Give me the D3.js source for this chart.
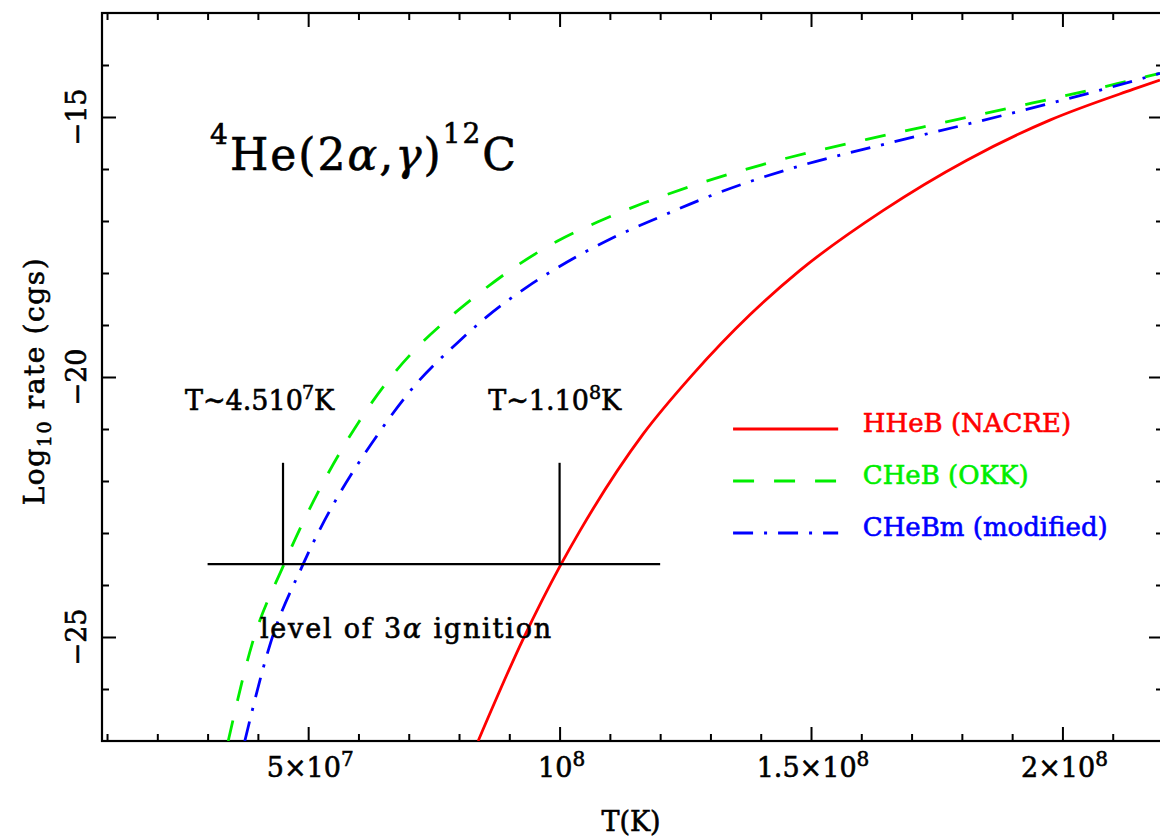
<!DOCTYPE html>
<html>
<head>
<meta charset="utf-8">
<script src="https://cdn.jsdelivr.net/npm/d3@7/dist/d3.min.js"></script>
<style>
  body { margin: 0; background: #fff; }
  text { font-family: "DejaVu Serif", serif; fill: #000; stroke: #000; stroke-width: 0.6px; }
</style>
</head>
<body>
<svg id="chart" width="1160" height="840"></svg>
<script>
// temperatures are in units of 1e7 K, rates are log10 (cgs)
var tempNacre = [8.38, 9.27, 10.03, 10.41, 11.66, 12.65, 13.79, 14.78, 16.43, 18.10, 19.75, 21.40, 21.94];
var rateNacre = [-27.0, -25.05, -23.6, -22.95, -21.1, -19.95, -18.8, -17.95, -16.80, -15.83, -15.06, -14.47, -14.29];

var tempOkk = [3.41, 3.88, 4.52, 6.03, 6.63, 7.08, 7.82, 8.48, 9.15, 9.95, 10.80, 11.66, 12.65, 13.65, 14.44, 16.11, 17.76, 19.41, 21.09, 21.94];
var rateOkk = [-27.0, -25.15, -23.6, -20.83, -20.02, -19.52, -18.85, -18.33, -17.86, -17.39, -17.00, -16.66, -16.32, -16.02, -15.81, -15.43, -15.08, -14.73, -14.36, -14.16];

var tempMod = [3.74, 4.24, 4.90, 6.49, 7.16, 7.96, 8.48, 9.35, 10.15, 11.00, 12.00, 12.99, 13.79, 14.78, 16.43, 18.10, 19.75, 21.40, 21.94];
var rateMod = [-27.0, -25.15, -23.6, -20.96, -20.12, -19.35, -18.90, -18.27, -17.79, -17.35, -16.92, -16.52, -16.24, -15.94, -15.53, -15.14, -14.74, -14.31, -14.16];

var seriesNames = ["HHeB (NACRE)", "CHeB (OKK)", "CHeBm (modified)"];
var seriesColors = ["#ff0000", "#00ee00", "#0000ff"];
var seriesDash = [null, "21,20", "20,11,3,11"];

// axis ticks and labels
var xMajor = [5, 10, 15, 20];
var xMinor = [1, 2, 3, 4, 6, 7, 8, 9, 11, 12, 13, 14, 16, 17, 18, 19, 21];
var xLabelMant = ["5×10", "10", "1.5×10", "2×10"];
var xLabelExp = ["7", "8", "8", "8"];
var yMajor = [-25, -20, -15];
var yMinor = [-26, -24, -23, -22, -21, -19, -18, -17, -16, -14];
var yLabels = ["−25", "−20", "−15"];

// ignition level markers
var ignitionLevel = -23.6;
var ignitionTop = -21.65;
var ignitionTemps = [4.5, 10.0];
var ignitionSpan = [3.0, 12.0];

var svg = d3.select("#chart");
var plotLeft = 102, plotRight = 1163, plotTop = 13, plotBottom = 741;

var x = d3.scaleLinear().domain([0.9, 22.0]).range([plotLeft, plotRight]);
var y = d3.scaleLinear().domain([-27, -13]).range([plotBottom, plotTop]);

svg.append("rect").attr("width", 1160).attr("height", 840).attr("fill", "#fff");

svg.append("clipPath").attr("id", "plotclip")
    .append("rect")
    .attr("x", plotLeft).attr("y", plotTop)
    .attr("width", plotRight - plotLeft).attr("height", plotBottom - plotTop);

// ticks on all four sides, pointing inward
function tickAxis(axis, values, size, tx, ty) {
    var g = svg.append("g")
        .attr("transform", "translate(" + tx + "," + ty + ")")
        .call(axis.tickValues(values).tickSizeInner(-size).tickSizeOuter(0).tickFormat(""));
    g.select(".domain").remove();
    g.selectAll("line").attr("stroke", "#000").attr("stroke-width", 2);
}
tickAxis(d3.axisBottom(x), xMajor, 14, 0, plotBottom);
tickAxis(d3.axisBottom(x), xMinor, 7, 0, plotBottom);
tickAxis(d3.axisTop(x), xMajor, 14, 0, plotTop);
tickAxis(d3.axisTop(x), xMinor, 7, 0, plotTop);
tickAxis(d3.axisLeft(y), yMajor, 14, plotLeft, 0);
tickAxis(d3.axisLeft(y), yMinor, 7, plotLeft, 0);
tickAxis(d3.axisRight(y), yMajor, 14, plotRight, 0);
tickAxis(d3.axisRight(y), yMinor, 7, plotRight, 0);

svg.append("rect")
    .attr("x", plotLeft).attr("y", plotTop)
    .attr("width", plotRight - plotLeft).attr("height", plotBottom - plotTop)
    .attr("fill", "none").attr("stroke", "#000").attr("stroke-width", 2.2);

// x tick labels with exponents
xMajor.forEach(function(v, i) {
    var t = svg.append("text")
        .attr("x", x(v) + 2).attr("y", 777)
        .attr("text-anchor", "middle")
        .style("font-size", "27px");
    t.append("tspan").text(xLabelMant[i]);
    t.append("tspan").attr("dy", -11).style("font-size", "20px").text(xLabelExp[i]);
});

// y tick labels, rotated
yMajor.forEach(function(v, i) {
    svg.append("text")
        .attr("transform", "translate(86," + y(v) + ") rotate(-90)")
        .attr("text-anchor", "middle")
        .style("font-size", "27px")
        .text(yLabels[i]);
});

// axis titles
svg.append("text")
    .attr("x", 631).attr("y", 831)
    .attr("text-anchor", "middle")
    .style("font-size", "27px")
    .text("T(K)");

var yt = svg.append("text")
    .attr("transform", "translate(44," + ((plotTop + plotBottom) / 2 + 4) + ") rotate(-90)")
    .attr("text-anchor", "middle")
    .style("font-size", "28px")
    .style("letter-spacing", "1.6px");
yt.append("tspan").text("Log");
yt.append("tspan").attr("dy", 7).style("font-size", "19px").text("10");
yt.append("tspan").attr("dy", -7).text(" rate (cgs)");

// curves
var line = d3.line()
    .x(function(d) { return x(d[0]); })
    .y(function(d) { return y(d[1]); })
    .curve(d3.curveMonotoneX);

var temps = [tempNacre, tempOkk, tempMod];
var rates = [rateNacre, rateOkk, rateMod];

var curves = svg.append("g").attr("clip-path", "url(#plotclip)");
temps.forEach(function(ts, k) {
    var pts = ts.map(function(t, i) { return [t, rates[k][i]]; });
    curves.append("path")
        .datum(pts)
        .attr("d", line)
        .attr("fill", "none")
        .attr("stroke", seriesColors[k])
        .attr("stroke-width", 2.8)
        .attr("stroke-dasharray", seriesDash[k]);
});

// ignition level annotation
svg.append("line")
    .attr("x1", x(ignitionSpan[0])).attr("x2", x(ignitionSpan[1]))
    .attr("y1", y(ignitionLevel)).attr("y2", y(ignitionLevel))
    .attr("stroke", "#000").attr("stroke-width", 2.2);
ignitionTemps.forEach(function(t) {
    svg.append("line")
        .attr("x1", x(t)).attr("x2", x(t))
        .attr("y1", y(ignitionLevel)).attr("y2", y(ignitionTop))
        .attr("stroke", "#000").attr("stroke-width", 2.2);
});

var a1 = svg.append("text").attr("x", x(2.55)).attr("y", y(-20.63)).style("font-size", "27px");
a1.append("tspan").text("T~4.510");
a1.append("tspan").attr("dy", -11).attr("dx", -1).style("font-size", "19px").text("7");
a1.append("tspan").attr("dy", 11).text("K");

var a2 = svg.append("text").attr("x", x(8.58)).attr("y", y(-20.63)).style("font-size", "27px");
a2.append("tspan").text("T~1.10");
a2.append("tspan").attr("dy", -11).style("font-size", "19px").text("8");
a2.append("tspan").attr("dy", 11).text("K");

var a3 = svg.append("text").attr("x", x(4.04)).attr("y", y(-25.02))
    .style("font-size", "27px").style("letter-spacing", "1.8px");
a3.append("tspan").text("level of 3");
a3.append("tspan").style("font-style", "italic").text("α");
a3.append("tspan").text(" ignition");

// reaction title
var ti = svg.append("text").attr("x", x(3.05)).attr("y", y(-16.02))
    .style("font-size", "44px").style("letter-spacing", "2px");
ti.append("tspan").attr("dy", -26).style("font-size", "28px").text("4");
ti.append("tspan").attr("dy", 26).text("He(2");
ti.append("tspan").style("font-style", "italic").text("α");
ti.append("tspan").text(",");
ti.append("tspan").style("font-style", "italic").text("γ");
ti.append("tspan").text(")");
ti.append("tspan").attr("dy", -27).style("font-size", "28px").text("12");
ti.append("tspan").attr("dy", 27).text("C");

// legend
var legendRates = [-21, -22, -23];
seriesNames.forEach(function(name, k) {
    svg.append("line")
        .attr("x1", x(13.45)).attr("x2", x(15.54))
        .attr("y1", y(legendRates[k])).attr("y2", y(legendRates[k]))
        .attr("stroke", seriesColors[k])
        .attr("stroke-width", 2.8)
        .attr("stroke-dasharray", seriesDash[k]);
    svg.append("text")
        .attr("x", x(16.03)).attr("y", y(legendRates[k]) + 3)
        .style("font-size", "26px")
        .style("fill", seriesColors[k])
        .style("stroke", seriesColors[k])
        .text(name);
});
</script>
</body>
</html>
